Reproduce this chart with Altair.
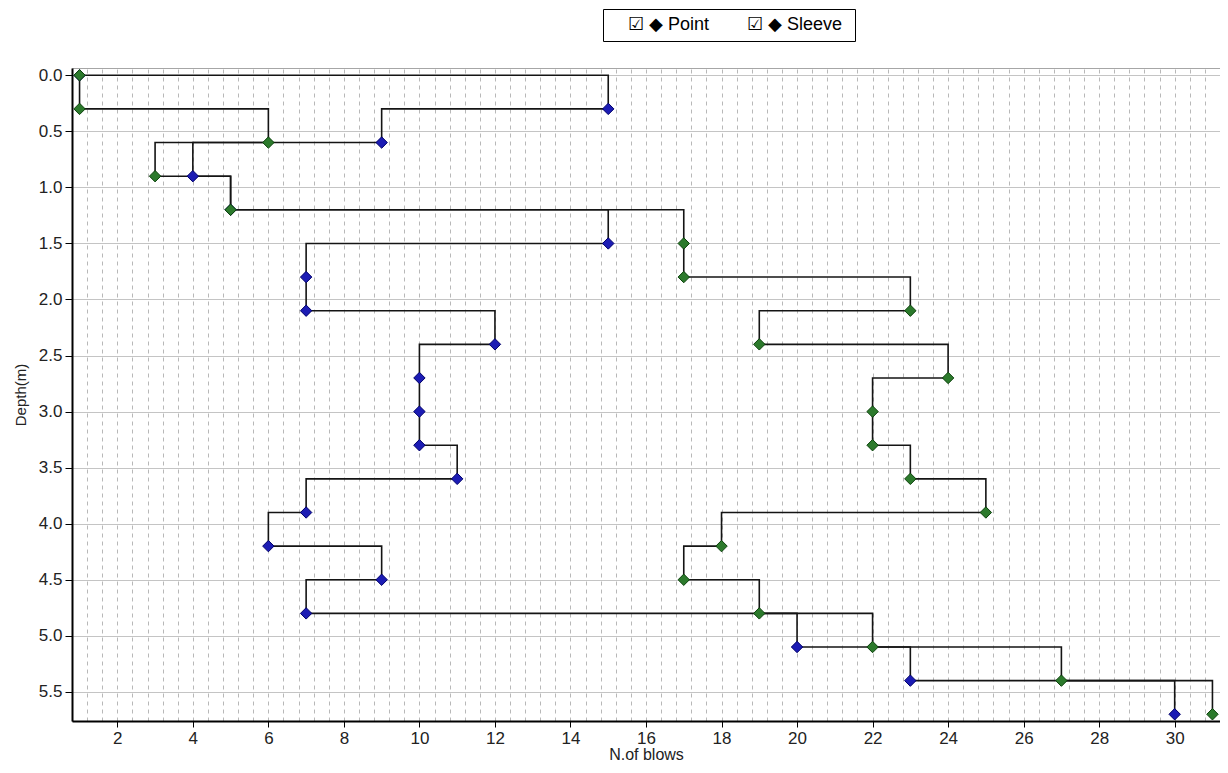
import altair as alt
import pandas as pd

# ---- data ----
depth = [0.0, 0.3, 0.6, 0.9, 1.2, 1.5, 1.8, 2.1, 2.4, 2.7,
         3.0, 3.3, 3.6, 3.9, 4.2, 4.5, 4.8, 5.1, 5.4, 5.7]
point_blows = [1, 15, 9, 4, 5, 15, 7, 7, 12, 10,
               10, 10, 11, 7, 6, 9, 7, 20, 23, 30]
sleeve_blows = [1, 1, 6, 3, 5, 17, 17, 23, 19, 24,
                22, 22, 23, 25, 18, 17, 19, 22, 27, 31]
series_names = ["Point", "Sleeve"]
fill_colors = ["#1c1cb4", "#2c7a2c"]
stroke_colors = ["#00006a", "#0c420c"]
y_tick_values = [0.0, 0.5, 1.0, 1.5, 2.0, 2.5, 3.0, 3.5, 4.0, 4.5, 5.0, 5.5]
x_grid_values = [round(0.8 + 0.4 * i, 1) for i in range(77)]

rows = []
for name, vals in zip(series_names, [point_blows, sleeve_blows]):
    for d, v in zip(depth, vals):
        rows.append({"series": name, "depth": d, "blows": v})
df = pd.DataFrame(rows)

FONT = "Liberation Sans"
even_test = "abs(datum.value - 2*round(datum.value/2)) < 0.01"

x_enc = alt.X(
    "blows:Q",
    scale=alt.Scale(domain=[0.8, 31.2], nice=False, zero=False),
    axis=alt.Axis(
        values=x_grid_values,
        labelExpr=f"{even_test} ? format(datum.value, 'd') : ''",
        labelOverlap=False,
        labelFontSize=17,
        labelFont=FONT,
        labelColor="#222222",
        labelPadding=3,
        tickSize=6,
        tickColor="black",
        tickOpacity={"condition": {"test": even_test, "value": 1}, "value": 0},
        domainColor="black",
        domainWidth=2,
        grid=True,
        gridDash=[4, 4],
        gridColor="#b8b8b8",
        gridWidth=1,
        title="N.of blows",
        titleFontSize=16,
        titleFont=FONT,
        titleFontWeight="normal",
        titleColor="#222222",
        titlePadding=0,
    ),
)

y_enc = alt.Y(
    "depth:Q",
    scale=alt.Scale(domain=[-0.065, 5.76], reverse=True, nice=False, zero=False),
    axis=alt.Axis(
        values=y_tick_values,
        format=".1f",
        labelFontSize=17,
        labelFont=FONT,
        labelColor="#222222",
        labelPadding=3,
        tickSize=7,
        tickColor="black",
        domainColor="black",
        domainWidth=2,
        grid=True,
        gridColor="#c4c4c4",
        gridWidth=1,
        title="Depth(m)",
        titleFontSize=15,
        titleFont=FONT,
        titleFontWeight="normal",
        titleColor="#222222",
        titlePadding=10,
    ),
)

base = alt.Chart(df).encode(x=x_enc, y=y_enc)

lines = base.mark_line(
    interpolate="step-after", color="#141414", strokeWidth=1.6
).encode(detail="series:N", order=alt.Order("depth:Q"))

points = base.mark_point(
    shape="diamond", filled=True, size=130, strokeWidth=1, opacity=1
).encode(
    fill=alt.Fill(
        "series:N",
        scale=alt.Scale(domain=series_names, range=fill_colors),
        legend=alt.Legend(
            orient="none",
            legendX=531,
            legendY=-59,
            direction="horizontal",
            title=None,
            strokeColor="black",
            fillColor="white",
            padding=7,
            columnPadding=14,
            symbolOpacity=0,
            symbolSize=1,
            symbolStrokeWidth=0,
            labelOffset=0,
            labelExpr="'\u2611  \u25c6 ' + datum.label",
            labelFontSize=18,
            labelFont=FONT,
            labelColor="black",
        ),
    ),
    stroke=alt.Stroke(
        "series:N",
        scale=alt.Scale(domain=series_names, range=stroke_colors),
        legend=None,
    ),
)

chart = (
    alt.layer(lines, points)
    .properties(
        width=1148,
        height=653,
        autosize=alt.AutoSizeParams(type="none"),
        padding={"left": 64, "top": 60, "right": 0, "bottom": 44},
        background="white",
    )
    .configure_view(stroke="#a6a6a6", strokeWidth=1)
)

chart.save("out.html", embed_options={"renderer": "svg", "actions": False})
